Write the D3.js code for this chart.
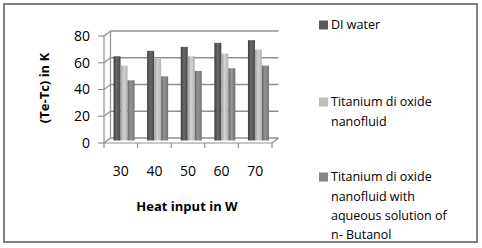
<!DOCTYPE html>
<html><head><meta charset="utf-8">
<script src="https://cdn.jsdelivr.net/npm/d3@7"></script>
<style>html,body{margin:0;padding:0;background:#fff}svg{display:block}</style>
</head><body>
<svg id="c" width="482" height="248"></svg>
<script>
const categories = ["30","40","50","60","70"];
const seriesNames = ["DI water","Titanium di oxide nanofluid","Titanium di oxide nanofluid with aqueous solution of n- Butanol"];
const diWater = [63,67,70,73,75];
const tio2 = [56,61,63,65,68];
const tio2Butanol = [45,48,52,54,56];
const yTicks = [0,20,40,60,80];
const legendLines = [["DI water"],["Titanium di oxide","nanofluid"],["Titanium di oxide","nanofluid with","aqueous solution of","n- Butanol"]];

const series = [diWater, tio2, tio2Butanol];
const svg = d3.select("#c");
const font = "'Open Sans', sans-serif";

// outer border
svg.append("rect").attr("x",4).attr("y",4).attr("width",473).attr("height",238)
  .attr("fill","#fff").attr("stroke","#808080").attr("stroke-width",2);

const x = d3.scaleBand().domain(categories).range([104,272]);
const y = d3.scaleLinear().domain([0,80]).range([143,36]);
const dx = 6.5, dy = -5;
const gc = "#8f8f8f";

// gradients
const defs = svg.append("defs");
const grads = [
  ["#3c3c3c","#6a6a6a","#474747"],
  ["#9e9e9e","#d2d2d2","#b2b2b2"],
  ["#666666","#959595","#727272"]
];
grads.forEach((g,i)=>{
  const lg = defs.append("linearGradient").attr("id","g"+i).attr("x1","0").attr("x2","1").attr("y1","0").attr("y2","0");
  lg.append("stop").attr("offset","0%").attr("stop-color",g[0]);
  lg.append("stop").attr("offset","45%").attr("stop-color",g[1]);
  lg.append("stop").attr("offset","100%").attr("stop-color",g[2]);
});

// walls/gridlines
const grid = svg.append("g").attr("stroke",gc).attr("fill","none");
yTicks.forEach(v=>{
  const yy = y(v);
  grid.append("line").attr("x1",x.range()[0]+dx).attr("x2",x.range()[1]+dx).attr("y1",yy+dy).attr("y2",yy+dy).attr("stroke-width",1.5);
  grid.append("line").attr("x1",x.range()[0]).attr("x2",x.range()[0]+dx).attr("y1",yy).attr("y2",yy+dy).attr("stroke-width",1.2);
  grid.append("line").attr("x1",x.range()[0]-6).attr("x2",x.range()[0]).attr("y1",yy).attr("y2",yy).attr("stroke-width",1.2);
});
grid.append("line").attr("x1",x.range()[0]).attr("x2",x.range()[0]).attr("y1",y(80)).attr("y2",y(0)).attr("stroke-width",1.2);
grid.append("line").attr("x1",x.range()[0]+dx).attr("x2",x.range()[0]+dx).attr("y1",y(80)+dy).attr("y2",y(0)+dy).attr("stroke-width",1.2);
// floor
grid.append("line").attr("x1",x.range()[1]).attr("x2",x.range()[1]+dx).attr("y1",y(0)).attr("y2",y(0)+dy).attr("stroke-width",1.2);

// bars
const bw = 7;
const bars = svg.append("g");
categories.forEach((c,ci)=>{
  const cx = x(c) + x.bandwidth()/2 + dx/2;
  series.forEach((s,si)=>{
    const bx = cx - 1.5*bw + si*bw;
    const top = y(s[ci]) + dy/2;
    const base = y(0) + dy/2;
    bars.append("rect").attr("x",bx).attr("y",top).attr("width",bw).attr("height",base-top)
      .attr("fill","url(#g"+si+")");
  });
});

// front floor line and x ticks
const ax = svg.append("g").attr("stroke",gc).attr("stroke-width",1.2);
ax.append("line").attr("x1",x.range()[0]).attr("x2",x.range()[1]).attr("y1",y(0)).attr("y2",y(0));
const bounds = categories.map(c=>x(c)).concat([x.range()[1]]);
bounds.forEach(b=>{
  ax.append("line").attr("x1",b).attr("x2",b).attr("y1",y(0)).attr("y2",y(0)+5);
});

// tick labels
svg.append("g").selectAll("text").data(yTicks).join("text")
  .attr("x",90).attr("y",d=>y(d)).attr("dy","0.35em").attr("text-anchor","end")
  .attr("font-family",font).attr("font-size",14).attr("fill","#000").text(d=>d);
svg.append("g").selectAll("text").data(categories).join("text")
  .attr("x",d=>x(d)+x.bandwidth()/2).attr("y",171).attr("dy","0.35em").attr("text-anchor","middle")
  .attr("font-family",font).attr("font-size",14).attr("fill","#000").text(d=>d);

// axis titles
svg.append("text").attr("transform","translate(44,88) rotate(-90)").attr("text-anchor","middle").attr("dy","0.35em")
  .attr("font-family",font).attr("font-size",13).attr("font-weight","bold").text("(Te-Tc) in K");
svg.append("text").attr("x",187).attr("y",206).attr("text-anchor","middle").attr("dy","0.35em")
  .attr("font-family",font).attr("font-size",13).attr("font-weight","bold").text("Heat input in W");

// legend
const legendY = [25,102,177];
const legColors = ["#5a5a5a","#bdbdbd","#858585"];
legendLines.forEach((lines,i)=>{
  svg.append("rect").attr("x",319).attr("y",legendY[i]-4.5).attr("width",9).attr("height",9).attr("fill",legColors[i]);
  lines.forEach((t,j)=>{
    svg.append("text").attr("x",331).attr("y",legendY[i]+j*19.3).attr("dy","0.35em")
      .attr("font-family",font).attr("font-size",12.5).attr("fill","#000").text(t);
  });
});
</script>
</body></html>
